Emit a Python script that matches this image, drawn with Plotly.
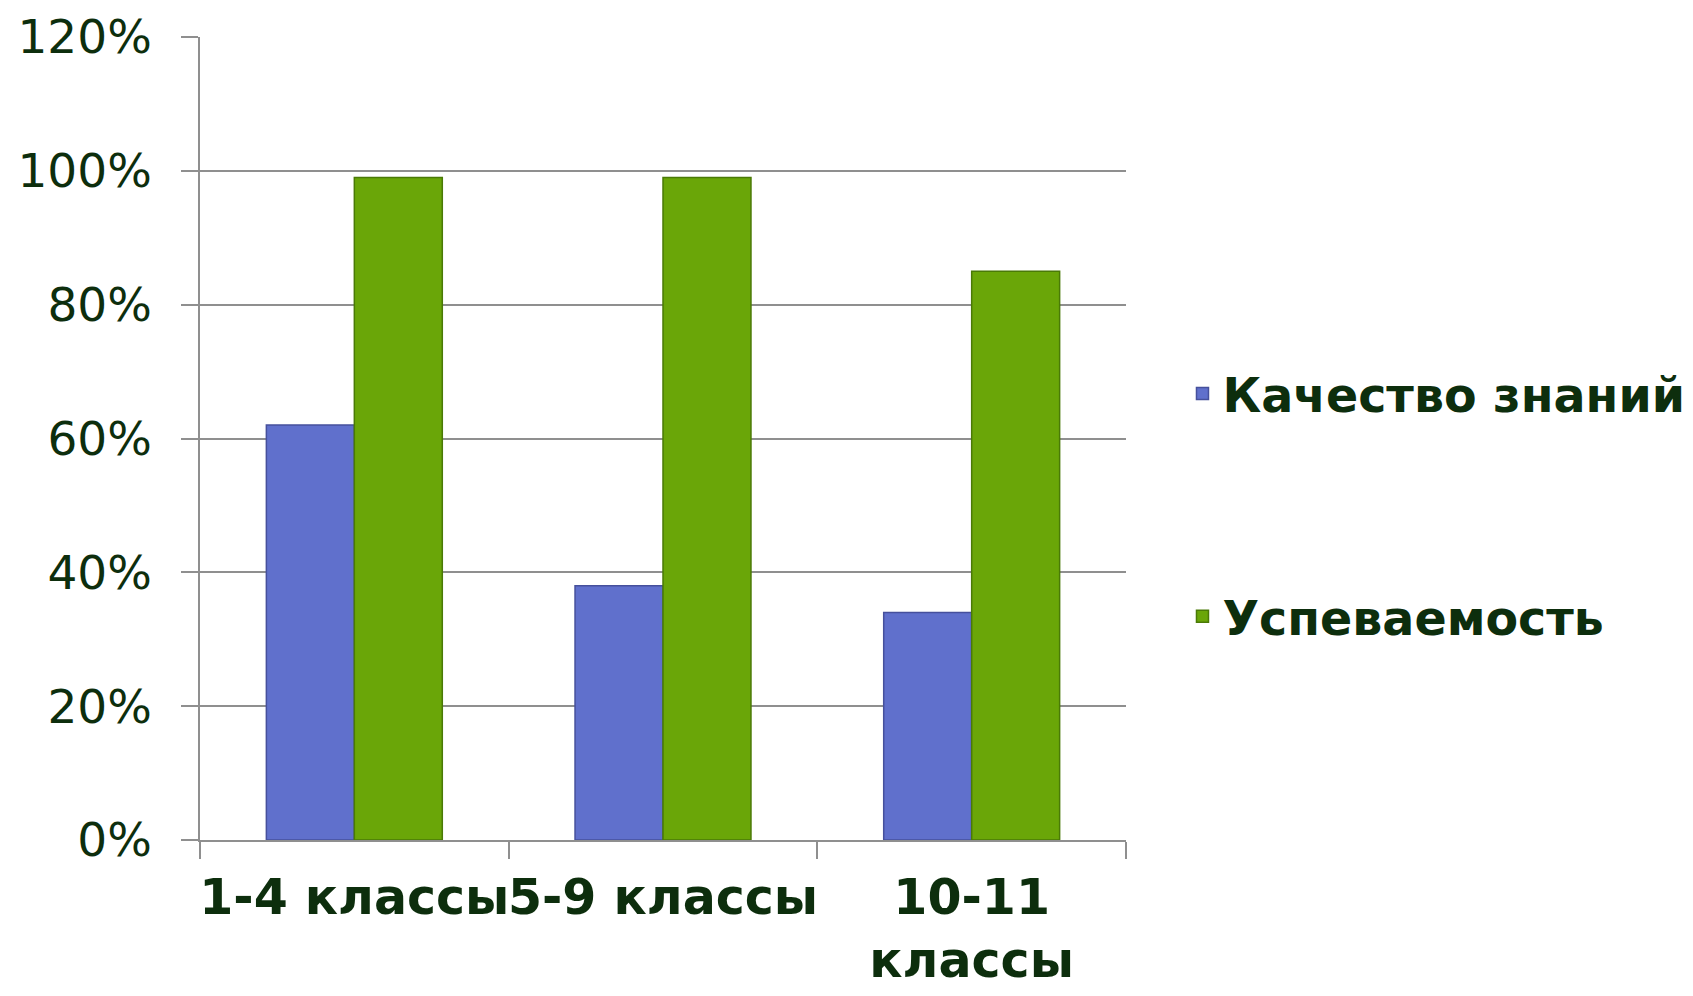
import plotly.graph_objects as go

categories = ["1-4 классы", "5-9 классы", "10-11<br>классы"]
series_names = ["Качество знаний", "Успеваемость"]
quality = [62, 38, 34]
progress = [99, 99, 85]
y_ticks = [0, 20, 40, 60, 80, 100, 120]
y_tick_labels = ["0%", "20%", "40%", "60%", "80%", "100%", "120%"]

TEXT = "#0d2e0d"
GRID = "#8f8f8f"

fig = go.Figure()
fig.add_trace(go.Bar(
    x=categories, y=quality, name=series_names[0], legendgroup="a",
    marker=dict(color="#6070cc", line=dict(color="#46509c", width=1.5)),
))
fig.add_trace(go.Bar(
    x=categories, y=progress, name=series_names[1], legendgroup="b",
    marker=dict(color="#6aa608", line=dict(color="#4a7a06", width=1.5)),
))

fig.update_layout(
    width=1677, height=980,
    margin=dict(l=192, r=559, t=29, b=148, autoexpand=False),
    paper_bgcolor="white", plot_bgcolor="white",
    barmode="group", bargap=0.43, bargroupgap=0,
    font=dict(family="DejaVu Sans", color=TEXT),
    legend=dict(
        x=1.061, xanchor="left", y=0.417, yanchor="middle",
        traceorder="grouped", tracegroupgap=158,
        font=dict(family="DejaVu Sans", size=47.5, color=TEXT, weight="bold"),
        bgcolor="rgba(0,0,0,0)",
    ),
    showlegend=True,
)
fig.update_yaxes(
    range=[0, 120], tickvals=y_ticks, ticktext=y_tick_labels,
    showgrid=True, gridcolor=GRID, gridwidth=1.5,
    showline=True, linecolor=GRID, linewidth=1.5,
    ticks="outside", ticklen=17, tickcolor=GRID, tickwidth=1.5,
    ticklabelstandoff=20, automargin=False,
    tickfont=dict(family="DejaVu Sans", size=47, color=TEXT),
    zeroline=False, fixedrange=True,
)
fig.update_xaxes(
    tickson="boundaries", ticks="outside", ticklen=17, tickcolor=GRID, tickwidth=1.5,
    showline=True, linecolor=GRID, linewidth=1.5, tickangle=0, automargin=False,
    tickfont=dict(family="DejaVu Sans", size=49, color=TEXT, weight="bold"),
    ticklabelstandoff=13,
)

fig.write_html("out.html")
